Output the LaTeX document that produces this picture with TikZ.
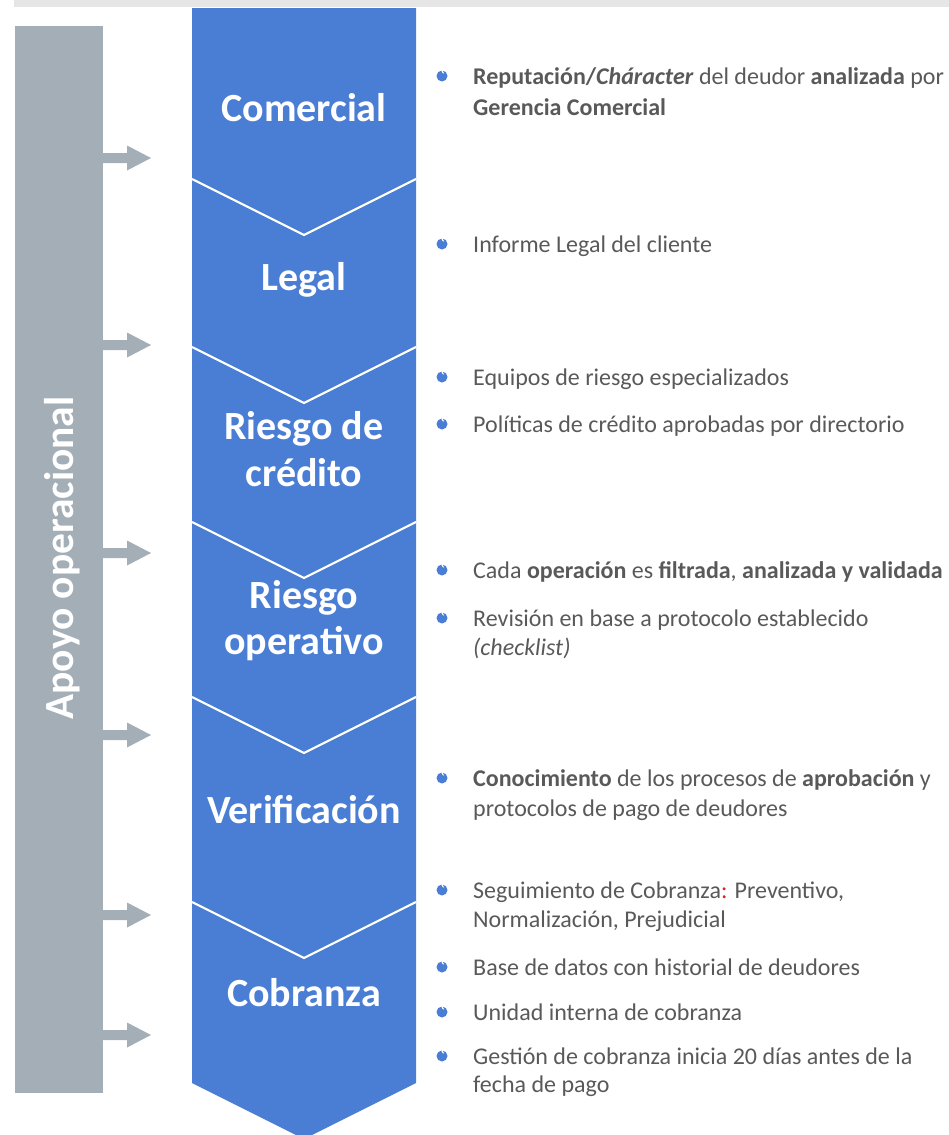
\documentclass[tikz,border=0pt]{standalone}
\usepackage{fontspec}
\setmainfont{Carlito}
\definecolor{blu}{HTML}{4A7ED4}
\definecolor{gbar}{HTML}{A3AEB6}
\definecolor{topbar}{HTML}{E6E6E6}
\definecolor{txt}{HTML}{595959}
\definecolor{red1}{HTML}{E0201B}
\tikzset{
  stage/.style={text=white, font=\fontsize{40}{46}\selectfont\bfseries, anchor=base, inner sep=0pt},
  item/.style={text=txt, font=\fontsize{24}{29}\selectfont, anchor=base west, inner sep=0pt},
  bul/.pic={\fill[blu] (0,0) circle (5.5); \draw[white, line width=1.1] (1.6,-2.7) arc (120:240:3.1);},
}
\begin{document}
\begin{tikzpicture}[x=1pt,y=-1pt]
\useasboundingbox (0,0) rectangle (949,1135);
% top bar
\fill[topbar] (14,0) rectangle (949,7);
% side bar
\fill[gbar] (15,26) rectangle (103,1093);
\node[text=white, font=\fontsize{41.5}{46}\selectfont\bfseries, rotate=90, anchor=base, inner sep=0pt] (apoyo) at (73,558) {Apoyo operacional};
% arrows
\foreach \y in {158,345,553,735,915,1035}{
  \fill[gbar] (103,\y-5) -- (127,\y-5) -- (127,\y-12.5) -- (151,\y) -- (127,\y+12.5) -- (127,\y+5) -- (103,\y+5) -- cycle;
}
% blue column
\fill[blu] (192,8) -- (416,8) -- (416,1083) -- (304,1139) -- (192,1083) -- cycle;
\foreach \b in {179,347,522,697,902}{
  \draw[white, line width=2.2] (192,\b) -- (304,\b+56) -- (416,\b);
}
% stage labels
\node[stage] (s1) at (304,121) {Comercial};
\node[stage] (s2) at (304,290) {Legal};
\node[stage] (s3a) at (304,439) {Riesgo de};
\node[stage] (s3b) at (304,486) {crédito};
\node[stage] (s4a) at (304,608) {Riesgo};
\node[stage] (s4b) at (304,654) {operativo};
\node[stage] (s5) at (304,823) {Verificación};
\node[stage] (s6) at (304,1006) {Cobranza};
% bullets
\foreach \yb in {84,252,385,432,578,626,786,898,975,1020,1064}{
  \pic at (442,\yb-8) {bul};
}
% items
\node[item] (t1a) at (473,84) {\textbf{Reputación/\textit{Cháracter}} del deudor \textbf{analizada} por};
\node[item] (t1b) at (473,115) {\textbf{Gerencia Comercial}};
\node[item] (t2) at (473,252) {Informe Legal del cliente};
\node[item] (t3a) at (473,385) {Equipos de riesgo especializados};
\node[item] (t3b) at (473,432) {Políticas de crédito aprobadas por directorio};
\node[item] (t4a) at (473,578) {Cada \textbf{operación} es \textbf{filtrada}, \textbf{analizada y validada}};
\node[item] (t4b) at (473,626) {Revisión en base a protocolo establecido};
\node[item] (t4c) at (473,655) {\textit{(checklist)}};
\node[item] (t5a) at (473,786) {\textbf{Conocimiento} de los procesos de \textbf{aprobación} y};
\node[item] (t5b) at (473,816) {protocolos de pago de deudores};
\node[item] (t6a) at (473,898) {Seguimiento de Cobranza\textcolor{red1}{:} Preventivo,};
\node[item] (t6b) at (473,927) {Normalización, Prejudicial};
\node[item] (t6c) at (473,975) {Base de datos con historial de deudores};
\node[item] (t6d) at (473,1020) {Unidad interna de cobranza};
\node[item] (t6e) at (473,1064) {Gestión de cobranza inicia 20 días antes de la};
\node[item] (t6f) at (473,1092) {fecha de pago};
\end{tikzpicture}
\end{document}
